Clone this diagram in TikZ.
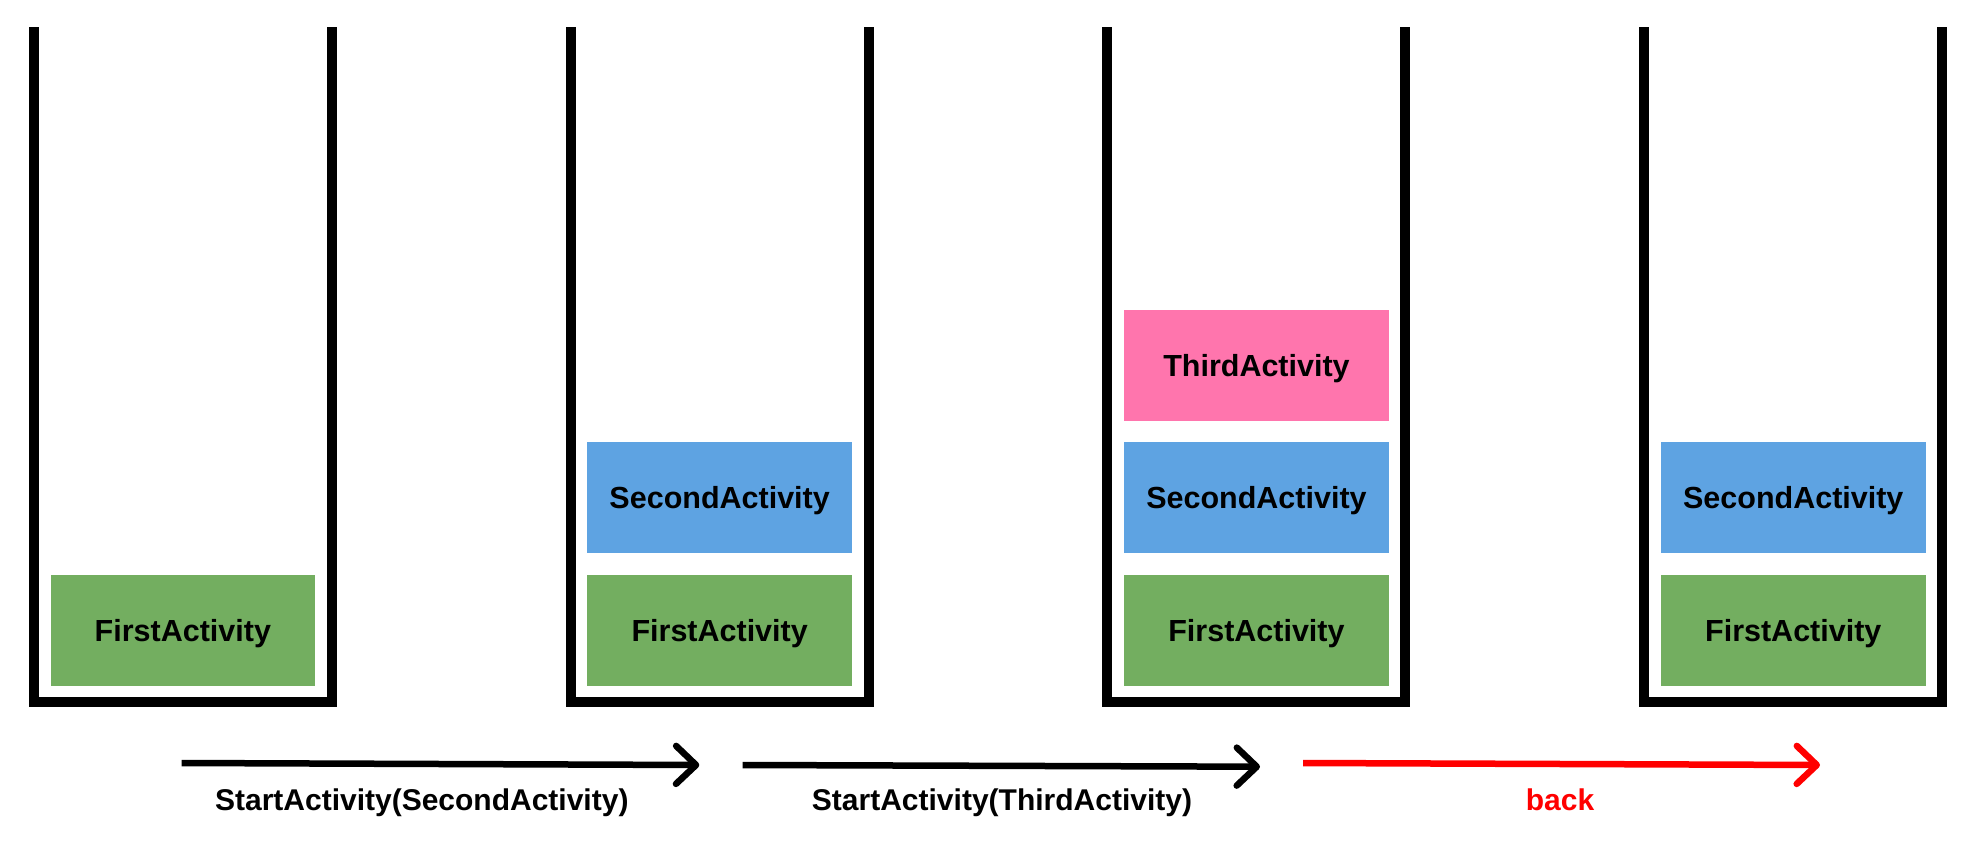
\documentclass[tikz,border=0pt]{standalone}
\usepackage{fontspec}
\setmainfont{Liberation Sans}
\usetikzlibrary{arrows.meta}
\definecolor{actgreen}{HTML}{73AE60}
\definecolor{actblue}{HTML}{5EA3E2}
\definecolor{actpink}{HTML}{FF75AD}
\definecolor{backred}{HTML}{FF0000}
\begin{document}
\begin{tikzpicture}[x=1pt,y=-1pt,
  act/.style={minimum width=264.7pt, minimum height=111.4pt, inner sep=0pt, text depth=0pt, anchor=north west, font=\fontsize{30.5}{31}\selectfont\bfseries},
  wall/.style={line width=10pt, line join=miter, line cap=butt},
  conn/.style={line width=6.5pt, -{Straight Barb[length=20pt,width=38pt,round]}},
  lbl/.style={anchor=base, font=\fontsize{30}{30}\selectfont\bfseries}]
\useasboundingbox (0,0) rectangle (1980,842);
% containers
\foreach \i in {0,1,2,3}{
  \pgfmathsetmacro\L{28.7+536.8*\i}
  \draw[wall] (\L+5,27.3) -- (\L+5,702) -- (\L+303,702) -- (\L+303,27.3);
}
% activities
\node[act,fill=actgreen] (f1) at (50.3,574.3) {FirstActivity};
\node[act,fill=actgreen] (f2) at (587.1,574.3) {FirstActivity};
\node[act,fill=actblue]  (s2) at (587.1,441.8) {SecondActivity};
\node[act,fill=actgreen] (f3) at (1123.9,574.3) {FirstActivity};
\node[act,fill=actblue]  (s3) at (1123.9,441.8) {SecondActivity};
\node[act,fill=actpink]  (t3) at (1123.9,309.3) {ThirdActivity};
\node[act,fill=actgreen] (f4) at (1660.7,574.3) {FirstActivity};
\node[act,fill=actblue]  (s4) at (1660.7,441.8) {SecondActivity};
% arrows
\coordinate (a1s) at (181.7,763);
\coordinate (a1e) at (699.3,765);
\coordinate (a2s) at (742.7,765);
\coordinate (a2e) at (1260,766.7);
\coordinate (a3s) at (1303,763);
\coordinate (a3e) at (1820,765);
\draw[conn] (a1s) -- (a1e);
\draw[conn] (a2s) -- (a2e);
\draw[conn,backred] (a3s) -- (a3e);
% labels
\node[lbl] (l1) at (421.8,810.7) {StartActivity(SecondActivity)};
\node[lbl] (l2) at (1002,810.7) {StartActivity(ThirdActivity)};
\node[lbl,text=backred] (l3) at (1560,810.7) {back};
\end{tikzpicture}
\end{document}
